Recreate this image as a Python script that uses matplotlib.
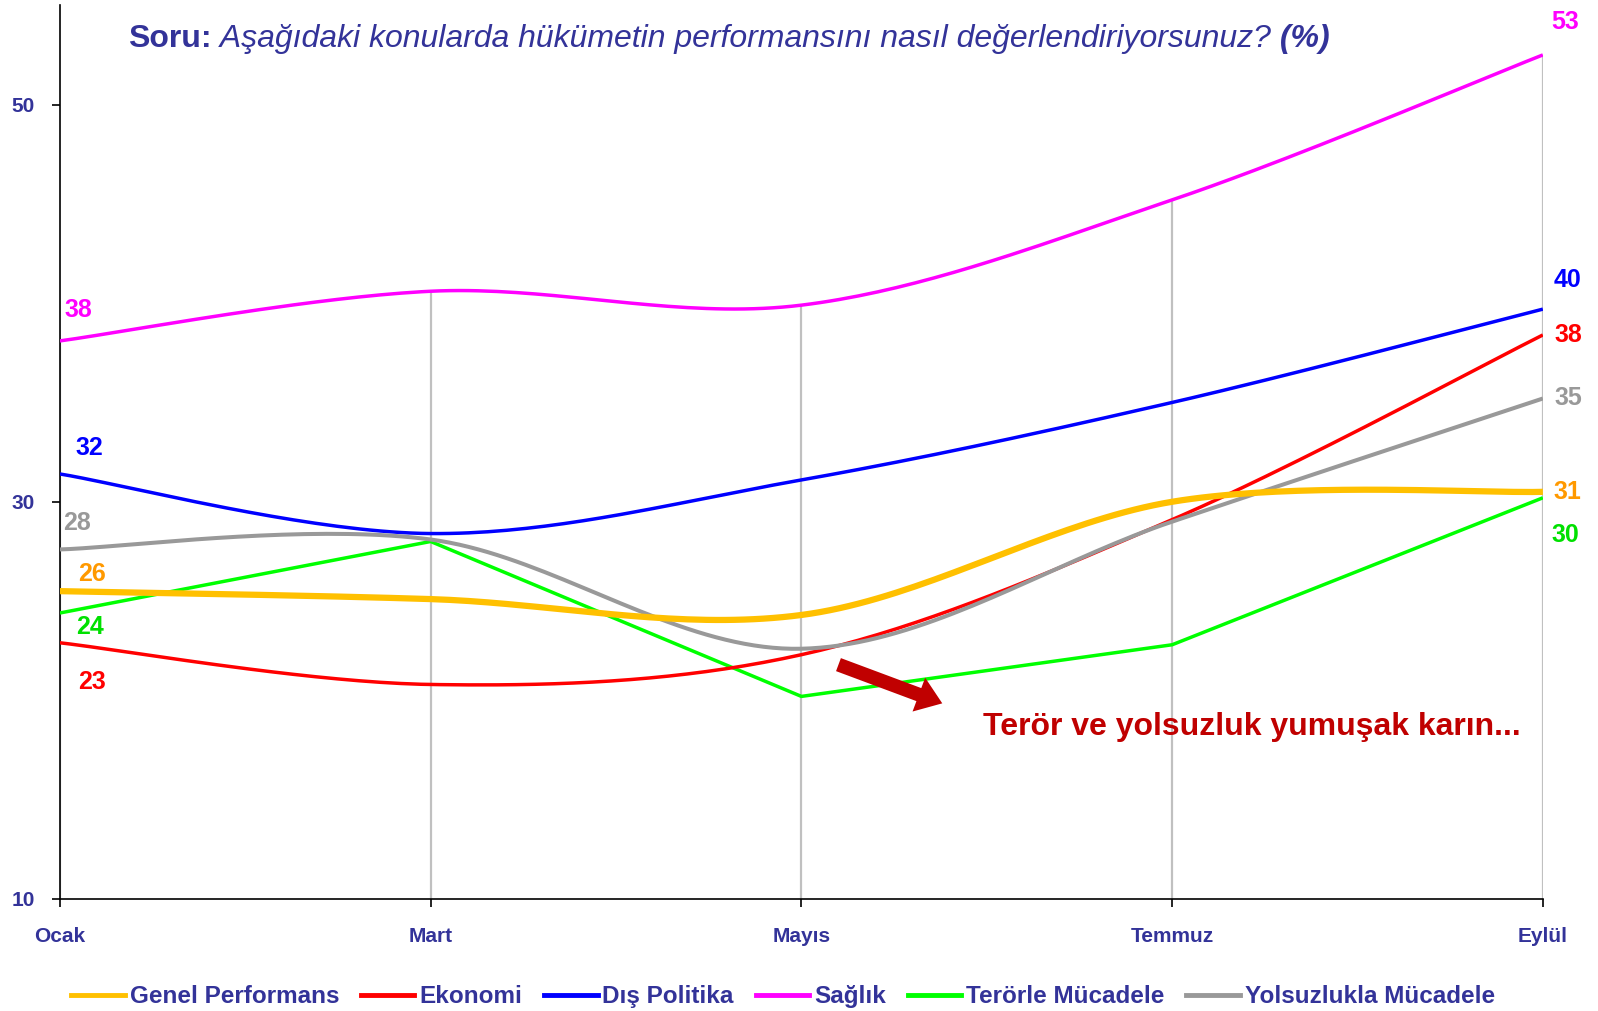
import matplotlib
matplotlib.use("Agg")
import matplotlib.pyplot as plt
from matplotlib.lines import Line2D
import numpy as np

# chart data
months = ["Ocak", "Mart", "Mayıs", "Temmuz", "Eylül"]
series_names = ["Genel Performans", "Ekonomi", "Dış Politika", "Sağlık",
                "Terörle Mücadele", "Yolsuzlukla Mücadele"]
genel = [25.5, 25.1, 24.3, 30.0, 30.5]
ekonomi = [22.9, 20.8, 22.3, 29.1, 38.4]
dis_politika = [31.4, 28.4, 31.1, 35.0, 39.7]
saglik = [38.1, 40.6, 39.9, 45.2, 52.5]
teror = [24.4, 28.0, 20.2, 22.8, 30.2]
yolsuzluk = [27.6, 28.1, 22.6, 29.0, 35.2]
first_labels = ["26", "23", "32", "38", "24", "28"]
last_labels = ["31", "38", "40", "53", "30", "35"]

title_bold = "Soru:"
title_rest = " Aşağıdaki konularda hükümetin performansını nasıl değerlendiriyorsunuz?"
title_pct = " (%)"
note = "Terör ve yolsuzluk yumuşak karın..."

NAVY = "#333399"
ARIAL = ["Liberation Sans", "DejaVu Sans"]


def smooth(y, n=40):
    # excel-like smoothed line: bezier segments through every point
    x = np.arange(len(y), dtype=float)
    y = np.asarray(y, dtype=float)
    px = np.concatenate([[x[0]], x, [x[-1]]])
    py = np.concatenate([[y[0]], y, [y[-1]]])
    xs, ys = [], []
    t = np.linspace(0, 1, n)
    for i in range(len(y) - 1):
        p0 = np.array([px[i], py[i]])
        p1 = np.array([px[i + 1], py[i + 1]])
        p2 = np.array([px[i + 2], py[i + 2]])
        p3 = np.array([px[i + 3], py[i + 3]])
        c1 = p1 + (p2 - p0) / 6
        c2 = p2 - (p3 - p1) / 6
        pts = ((1 - t) ** 3)[:, None] * p1 + (3 * (1 - t) ** 2 * t)[:, None] * c1 \
            + (3 * (1 - t) * t ** 2)[:, None] * c2 + (t ** 3)[:, None] * p2
        xs.extend(pts[:, 0])
        ys.extend(pts[:, 1])
    return np.array(xs), np.array(ys)


fig = plt.figure(figsize=(15.98, 10.11), dpi=100)
ax = fig.add_axes([0.0375, 0.1108, 0.928, 0.884])

x = np.arange(len(months))
all_series = [genel, ekonomi, dis_politika, saglik, teror, yolsuzluk]
colors = ["#FFC000", "#FF0000", "#0000FF", "#FF00FF", "#00FF00", "#999999"]
label_colors = ["#FF9900", "#FF0000", "#0000FF", "#FF00FF", "#00E000", "#999999"]
widths = [4.5, 2.5, 2.5, 2.5, 2.5, 2.9]
smoothed = [True, True, True, True, False, True]
# label offsets in points (first point, last point)
first_off = [(23, 12), (23, -28), (21, 19), (13, 22), (22, -10), (12, 19)]
last_off = [(18, 0), (18, 0), (18, 21), (16, 24), (16, -27), (18, 0)]

# drop lines from the top series down to the axis
tops = np.max(np.array(all_series), axis=0)
ax.vlines(x, 10, tops, color="#C0C0C0", lw=1.6, zorder=1)

draw_order = [4, 3, 2, 0, 1, 5]
for i in draw_order:
    vals = all_series[i]
    if smoothed[i]:
        sx, sy = smooth(vals)
    else:
        sx, sy = x, vals
    ax.plot(sx, sy, color=colors[i], lw=widths[i], solid_capstyle="butt", zorder=3 + (i == 0))

for i, vals in enumerate(all_series):
    ax.annotate(first_labels[i], xy=(x[0], vals[0]), xytext=first_off[i],
                textcoords="offset points", ha="center", va="center",
                color=label_colors[i], fontsize=18, fontweight="bold", family=ARIAL)
    ax.annotate(last_labels[i], xy=(x[-1], vals[-1]), xytext=last_off[i],
                textcoords="offset points", ha="center", va="center",
                color=label_colors[i], fontsize=18, fontweight="bold", family=ARIAL,
                annotation_clip=False)

# arrow and note
ax.annotate("", xy=(2.38, 19.85), xytext=(2.10, 21.8),
            arrowprops=dict(arrowstyle="simple,head_length=0.9,head_width=1.3,tail_width=0.5",
                            fc="#C00000", ec="none", mutation_scale=20,
                            shrinkA=0, shrinkB=0), zorder=6)
ax.text(2.49, 18.65, note, color="#C00000", fontsize=23, fontweight="bold",
        family=ARIAL, ha="left", va="center")

# title
t1 = ax.text(0.046, 0.962, title_bold, transform=ax.transAxes, color=NAVY,
             fontsize=23, fontweight="bold", family=ARIAL, va="center", ha="left")
t2 = ax.annotate(title_rest, xy=(1, 0), xycoords=t1, va="bottom", ha="left",
                 color=NAVY, fontsize=23, style="italic", family=ARIAL)
ax.annotate(title_pct, xy=(1, 0), xycoords=t2, va="bottom", ha="left",
            color=NAVY, fontsize=23, style="italic", fontweight="bold", family=ARIAL)

ax.set_xlim(0, 4)
ax.set_ylim(10, 55)
ax.set_xticks(x)
ax.set_xticklabels(months)
ax.set_yticks([10, 30, 50])
for s in ["top", "right"]:
    ax.spines[s].set_visible(False)
ax.spines["left"].set_linewidth(1.2)
ax.spines["bottom"].set_linewidth(1.2)
ax.tick_params(axis="x", length=6, width=1.2, pad=14, colors="black", labelcolor=NAVY)
ax.tick_params(axis="y", length=6, width=1.2, pad=12, colors="black", labelcolor=NAVY)
for lab in ax.get_xticklabels() + ax.get_yticklabels():
    lab.set_family(ARIAL)
    lab.set_fontweight("bold")
    lab.set_fontsize(15)

handles = [Line2D([], [], color=c, lw=3.5) for c in colors]
leg = fig.legend(handles, series_names, loc="center", bbox_to_anchor=(0.49, 0.014),
                 ncol=6, frameon=False, handlelength=2.2, handletextpad=0.2,
                 columnspacing=0.9, prop={"family": ARIAL, "weight": "bold", "size": 17.5})
for txt in leg.get_texts():
    txt.set_color(NAVY)

fig.savefig("out.png", dpi=100)
